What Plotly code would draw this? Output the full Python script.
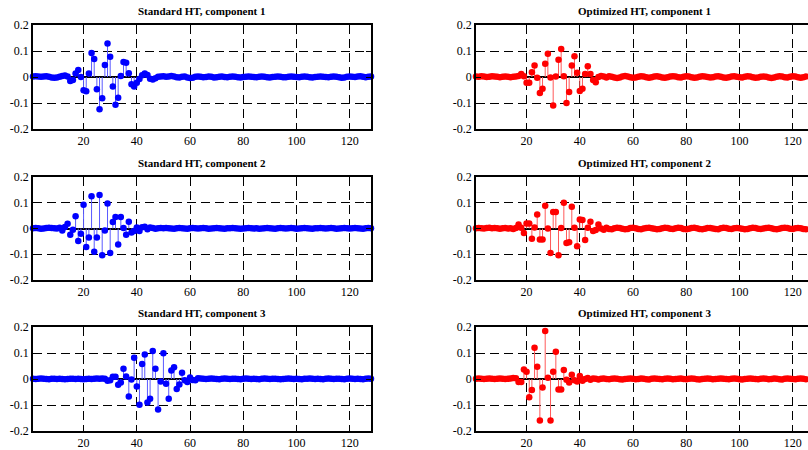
import plotly.graph_objects as go

# ---------------- data ----------------
sample_index = list(range(1, 129))
x_tick_vals = [20, 40, 60, 80, 100, 120]
x_tick_text = ["20", "40", "60", "80", "100", "120"]
y_tick_vals = [-0.2, -0.1, 0, 0.1, 0.2]
y_tick_text = ["-0.2", "-0.1", "0", "0.1", "0.2"]

titles = [
    "Standard HT, component 1", "Optimized HT, component 1",
    "Standard HT, component 2", "Optimized HT, component 2",
    "Standard HT, component 3", "Optimized HT, component 3",
]

std_comp1 = [
    0.002, 0.003, 0.002, 0.001, 0.002, 0.003, 0.001, -0.002, -0.003, -0.002,
    0.001, 0.004, 0.006, 0.002, -0.015, -0.012, 0.013, 0.027, 0.000, -0.051,
    -0.055, 0.013, 0.092, 0.069, -0.047, -0.124, -0.082, 0.046, 0.129, 0.078,
    -0.037, -0.107, -0.080, 0.004, 0.058, 0.055, 0.014, -0.028, -0.037, -0.022,
    -0.008, 0.007, 0.013, 0.008, -0.007, -0.010, -0.005, 0.001, 0.002, 0.003,
    0.001, 0.002, 0.004, 0.002, -0.001, -0.002, 0.001, 0.002, -0.002, -0.004,
    -0.003, 0.001, 0.002, 0.001, -0.001, 0.000, 0.002, 0.001, -0.002, -0.001,
    0.001, 0.002, 0.000, -0.001, 0.001, 0.002, 0.001, -0.001, -0.002, 0.000,
    0.001, 0.002, 0.001, 0.000, -0.001, 0.001, 0.002, 0.001, -0.001, -0.002,
    0.000, 0.001, 0.002, 0.001, -0.001, -0.001, 0.001, 0.002, 0.001, 0.000,
    -0.001, 0.001, 0.002, 0.001, -0.001, -0.002, 0.000, 0.001, 0.002, 0.001,
    0.000, -0.001, 0.001, 0.002, 0.001, -0.001, -0.003, -0.002, 0.001, 0.002,
    0.001, 0.000, 0.002, 0.003, 0.001, -0.001, 0.001, 0.002,
]

std_comp2 = [
    0.001, 0.002, 0.001, -0.001, 0.000, 0.002, 0.003, 0.002, 0.001, 0.000,
    0.003, -0.008, 0.006, 0.018, -0.024, -0.005, 0.048, -0.049, -0.020, 0.092,
    -0.072, -0.035, 0.125, -0.090, -0.035, 0.130, -0.104, -0.008, 0.097, -0.095,
    0.025, 0.045, -0.062, 0.045, 0.002, -0.024, 0.026, -0.016, -0.010, 0.004,
    -0.010, 0.005, 0.007, -0.003, 0.004, 0.002, -0.001, 0.001, 0.002, 0.001,
    0.002, 0.001, 0.000, -0.001, 0.001, 0.002, 0.001, 0.000, -0.001, 0.001,
    0.002, 0.001, 0.000, 0.001, 0.002, 0.001, -0.001, 0.000, 0.001, 0.002,
    0.001, 0.000, -0.001, 0.001, 0.001, 0.002, 0.001, 0.000, -0.001, 0.000,
    0.001, 0.002, 0.001, 0.000, 0.001, -0.001, 0.000, 0.001, 0.002, 0.001,
    0.000, -0.001, 0.001, 0.002, 0.001, 0.000, 0.001, 0.002, 0.001, -0.001,
    0.000, 0.001, 0.002, 0.001, 0.000, -0.001, 0.001, 0.001, 0.002, 0.001,
    0.000, 0.001, 0.002, 0.001, -0.001, 0.000, 0.001, 0.002, 0.001, 0.000,
    0.001, 0.002, 0.001, 0.000, -0.001, 0.001, 0.002, 0.001,
]

std_comp3 = [
    0.001, 0.000, 0.001, 0.002, 0.001, 0.000, -0.001, 0.001, 0.001, 0.000,
    0.001, 0.000, -0.001, 0.000, 0.001, 0.001, 0.000, 0.001, 0.000, -0.001,
    0.000, 0.001, 0.000, 0.001, 0.002, 0.001, 0.002, 0.001, -0.007, -0.005,
    0.009, 0.009, -0.022, -0.013, 0.039, 0.010, -0.067, -0.002, 0.082, -0.029,
    -0.099, 0.058, 0.094, -0.090, -0.076, 0.108, 0.039, -0.117, -0.010, 0.099,
    -0.018, -0.076, 0.033, 0.045, -0.038, -0.021, 0.024, -0.005, -0.012, 0.006,
    -0.004, -0.005, 0.003, 0.002, 0.001, 0.000, 0.001, 0.002, 0.001, 0.000,
    -0.001, 0.001, 0.002, 0.001, 0.000, 0.001, 0.001, 0.000, -0.001, 0.001,
    0.002, 0.001, 0.000, 0.001, 0.000, -0.001, 0.001, 0.002, 0.001, 0.000,
    0.001, 0.001, 0.000, -0.001, 0.000, 0.001, 0.002, 0.001, 0.000, 0.001,
    0.000, -0.001, 0.001, 0.001, 0.002, 0.001, 0.000, 0.001, 0.000, -0.001,
    0.001, 0.002, 0.001, 0.000, 0.001, 0.001, 0.000, -0.001, 0.001, 0.002,
    0.001, 0.000, 0.001, 0.000, -0.001, 0.001, 0.002, 0.001,
]

opt_comp1 = [
    0.002, 0.001, 0.003, 0.002, 0.000, 0.001, 0.003, 0.002, 0.001, -0.001,
    0.001, 0.002, 0.001, -0.001, 0.001, 0.002, 0.004, 0.012, 0.003, -0.022,
    -0.022, 0.018, 0.044, -0.003, -0.062, -0.045, 0.051, 0.089, -0.002, -0.110,
    0.002, 0.066, 0.108, 0.003, -0.100, -0.058, 0.044, 0.080, 0.016, -0.054,
    -0.045, 0.012, 0.041, 0.012, -0.012, -0.020, 0.000, 0.004, 0.002, -0.002,
    0.003, 0.001, -0.002, -0.004, -0.002, 0.002, 0.004, 0.002, -0.001, -0.003,
    -0.002, 0.001, 0.003, 0.002, -0.001, -0.003, -0.001, 0.002, 0.003, 0.001,
    -0.002, -0.003, -0.001, 0.002, 0.003, 0.002, -0.001, -0.002, 0.001, 0.003,
    0.002, -0.001, -0.003, -0.002, 0.001, 0.003, 0.002, 0.000, -0.002, -0.001,
    0.002, 0.003, 0.001, -0.002, -0.003, -0.001, 0.002, 0.003, 0.001, -0.001,
    -0.002, 0.001, 0.003, 0.002, -0.001, -0.003, -0.002, 0.001, 0.002, 0.001,
    -0.002, -0.004, -0.002, 0.001, 0.003, 0.002, -0.001, -0.002, 0.001, 0.003,
    0.002, -0.001, -0.003, -0.001, 0.002, 0.003, 0.001, -0.001,
]

opt_comp2 = [
    0.001, 0.002, 0.001, 0.000, 0.002, 0.003, 0.001, 0.002, 0.001, -0.001,
    0.001, 0.002, 0.000, 0.001, -0.002, 0.002, 0.016, 0.003, -0.017, 0.019,
    0.019, -0.040, 0.004, 0.054, -0.043, -0.043, 0.088, 0.000, -0.095, 0.064,
    0.064, -0.104, 0.002, 0.100, -0.056, -0.053, 0.084, 0.003, -0.069, 0.035,
    0.033, -0.045, 0.003, 0.026, -0.010, -0.006, 0.016, 0.000, -0.005, 0.003,
    -0.002, -0.003, 0.001, 0.003, 0.002, -0.001, -0.003, -0.002, 0.002, 0.003,
    0.001, -0.002, -0.003, 0.000, 0.002, 0.003, 0.001, -0.001, -0.003, -0.002,
    0.001, 0.003, 0.002, -0.001, -0.002, 0.001, 0.003, 0.002, -0.002, -0.003,
    -0.001, 0.002, 0.003, 0.001, -0.002, -0.003, -0.001, 0.002, 0.002, 0.000,
    -0.002, -0.003, 0.001, 0.003, 0.002, -0.001, -0.002, 0.001, 0.002, 0.001,
    -0.001, -0.003, -0.002, 0.001, 0.003, 0.002, -0.001, -0.002, 0.000, 0.002,
    0.003, 0.001, -0.002, -0.003, -0.001, 0.002, 0.003, 0.002, -0.001, -0.002,
    0.001, 0.002, 0.001, -0.002, -0.003, -0.001, 0.002, 0.001,
]

opt_comp3 = [
    0.001, 0.002, 0.001, 0.000, 0.001, 0.002, 0.001, 0.000, 0.001, 0.002,
    0.001, 0.000, 0.001, 0.002, 0.004, 0.003, -0.012, -0.012, 0.037, 0.028,
    -0.070, -0.042, 0.120, 0.047, -0.160, -0.033, 0.185, 0.005, -0.160, 0.028,
    0.105, -0.040, -0.040, 0.035, -0.003, -0.013, 0.016, -0.005, -0.010, 0.012,
    -0.007, 0.000, 0.004, -0.003, 0.002, 0.001, -0.002, 0.001, 0.002, 0.000,
    -0.001, 0.001, 0.002, 0.001, -0.001, -0.002, 0.000, 0.001, 0.002, 0.001,
    -0.001, 0.000, 0.002, 0.001, -0.001, -0.002, 0.001, 0.002, 0.001, 0.000,
    -0.001, 0.001, 0.002, 0.001, -0.001, 0.000, 0.001, 0.002, 0.000, -0.001,
    0.001, 0.002, 0.001, -0.001, -0.002, 0.000, 0.001, 0.002, 0.001, -0.001,
    0.000, 0.001, 0.002, 0.001, 0.000, -0.001, 0.001, 0.002, 0.001, -0.001,
    -0.002, 0.000, 0.001, 0.002, 0.001, 0.000, -0.001, 0.001, 0.002, 0.001,
    -0.001, 0.000, 0.002, 0.001, -0.001, -0.002, 0.001, 0.002, 0.001, 0.000,
    -0.001, 0.001, 0.002, 0.001, -0.001, 0.000, 0.001, 0.002,
]

# ---------------- layout geometry ----------------
W, H = 808, 450
col_dom = [[33 / W, 371 / W], [476 / W, 1.0]]
row_px = [(25, 129), (177, 280), (327, 431)]
row_dom = [[(H - b) / H, (H - t) / H] for t, b in row_px]
x_range_left = [1, 128]
x_range_right = [1, 1 + 127 * (W - 476) / (371 - 33)]

panels = [
    (std_comp1, 0, 0), (opt_comp1, 0, 1),
    (std_comp2, 1, 0), (opt_comp2, 1, 1),
    (std_comp3, 2, 0), (opt_comp3, 2, 1),
]
marker_col = ["#0000ff", "#ff0000"]
stem_col = ["#5a5aff", "#ff5a5a"]

FONT = "Liberation Serif, Times New Roman, serif"

fig = go.Figure()
annotations = []
for k, (vals, r, c) in enumerate(panels, start=1):
    xs, ys = [], []
    for xi, v in zip(sample_index, vals):
        xs += [xi, xi, None]
        ys += [0, v, None]
    xa = "x" if k == 1 else f"x{k}"
    ya = "y" if k == 1 else f"y{k}"
    fig.add_trace(go.Scatter(x=xs, y=ys, mode="lines", xaxis=xa, yaxis=ya,
                             line=dict(color=stem_col[c], width=1),
                             hoverinfo="skip", showlegend=False))
    fig.add_trace(go.Scatter(x=sample_index, y=vals, mode="markers", xaxis=xa, yaxis=ya,
                             marker=dict(color=marker_col[c], size=6.5, line=dict(width=0)),
                             cliponaxis=False, showlegend=False))
    xkey = "xaxis" if k == 1 else f"xaxis{k}"
    ykey = "yaxis" if k == 1 else f"yaxis{k}"
    fig.layout[xkey] = dict(
        domain=col_dom[c], anchor=ya,
        range=x_range_left if c == 0 else x_range_right,
        tickmode="array", tickvals=x_tick_vals, ticktext=x_tick_text,
        ticks="inside", ticklen=5, tickcolor="black", tickwidth=1,
        showline=True, linecolor="black", linewidth=1.5, mirror="ticks",
        showgrid=True, gridcolor="black", gridwidth=1, griddash="9px,5px",
        zeroline=False, automargin=False,
        tickfont=dict(family=FONT, size=12, color="black"),
    )
    fig.layout[ykey] = dict(
        domain=row_dom[r], anchor=xa, range=[-0.2, 0.2],
        tickmode="array", tickvals=y_tick_vals, ticktext=y_tick_text,
        ticks="inside", ticklen=5, tickcolor="black", tickwidth=1,
        showline=True, linecolor="black", linewidth=1.5,
        mirror="ticks" if c == 0 else False,
        showgrid=True, gridcolor="black", gridwidth=1, griddash="9px,5px",
        zeroline=True, zerolinecolor="black", zerolinewidth=1.5,
        automargin=False,
        tickfont=dict(family=FONT, size=12, color="black"),
    )
    cx = (33 + 371) / 2 / W if c == 0 else (476 + 813) / 2 / W
    annotations.append(dict(
        text=f"<b>{titles[k - 1]}</b>", x=cx, y=(H - (row_px[r][0] - 14)) / H,
        xref="paper", yref="paper", xanchor="center", yanchor="middle",
        showarrow=False, font=dict(family=FONT, size=11, color="black"),
    ))

fig.update_layout(
    width=W, height=H, margin=dict(l=0, r=0, t=0, b=0),
    paper_bgcolor="white", plot_bgcolor="white",
    annotations=annotations, showlegend=False,
)

fig.write_html("out.html")
